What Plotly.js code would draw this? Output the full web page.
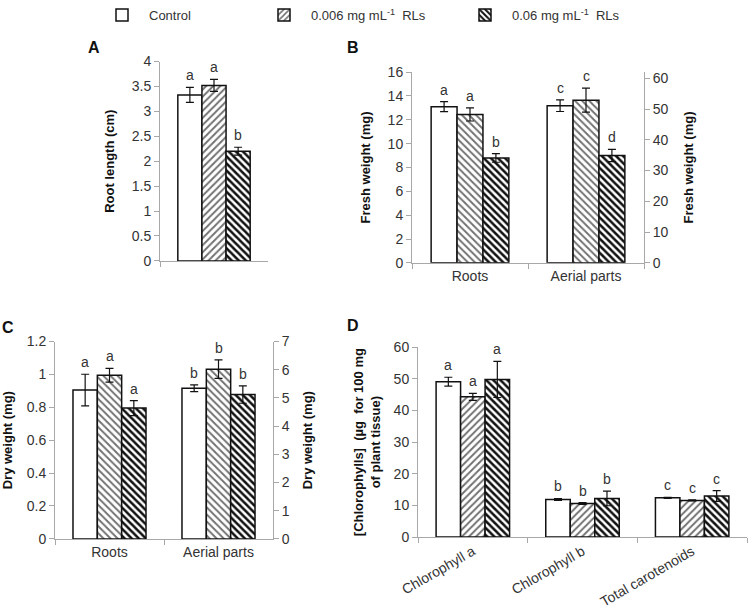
<!DOCTYPE html>
<html>
<head>
<meta charset="utf-8">
<script src="https://cdn.plot.ly/plotly-3.0.1.min.js"></script>
<style>html,body{margin:0;padding:0;background:#fff;}#chart{width:750px;height:609px;}</style>
</head>
<body>
<div id="chart"></div>
<script>
// ---------------- DATA ----------------
var seriesNames = ['Control', '0.006 mg mL<sup>-1</sup>&nbsp; RLs', '0.06 mg mL<sup>-1</sup>&nbsp; RLs'];

// Panel A - root length (cm)
var rootLength = [3.33, 3.52, 2.20];
var rootLengthErr = [0.15, 0.12, 0.08];
var rootLengthLetters = ['a', 'a', 'b'];

// Panel B - fresh weight (mg)
var bCategories = ['Roots', 'Aerial parts'];
var freshRoots = [13.1, 12.45, 8.8];
var freshRootsErr = [0.42, 0.55, 0.36];
var freshRootsLetters = ['a', 'a', 'b'];
var freshAerial = [51.1, 52.9, 34.9];
var freshAerialErr = [1.9, 3.9, 2.0];
var freshAerialLetters = ['c', 'c', 'd'];

// Panel C - dry weight (mg)
var cCategories = ['Roots', 'Aerial parts'];
var dryRoots = [0.905, 0.995, 0.795];
var dryRootsErr = [0.096, 0.042, 0.046];
var dryRootsLetters = ['a', 'a', 'a'];
var dryAerial = [5.34, 6.02, 5.12];
var dryAerialErr = [0.12, 0.33, 0.31];
var dryAerialLetters = ['b', 'b', 'b'];

// Panel D - pigments (µg per 100 mg of plant tissue)
var dCategories = ['Chlorophyll a', 'Chlorophyll b', 'Total carotenoids'];
var pigControl = [49.1, 11.9, 12.4];
var pigControlErr = [1.4, 0.3, 0.15];
var pigLow = [44.3, 10.6, 11.6];
var pigLowErr = [1.1, 0.3, 0.15];
var pigHigh = [49.8, 12.2, 13.0];
var pigHighErr = [5.7, 2.3, 1.7];
var pigLetters = [['a', 'b', 'c'], ['a', 'b', 'c'], ['a', 'b', 'c']];

// ---------------- STYLE ----------------
var W = 750, H = 609;
var FONT = 'Liberation Sans, Arial, sans-serif';
var BARGAP = 0.33;
var AXC = '#a8a8a8';
var TXT = '#333';

function px(x) { return x / W; }
function py(y) { return 1 - y / H; }

function markerFor(i, dir) {
  var m = { color: 'white', line: { color: '#111', width: 1.5 } };
  if (i === 1) m.pattern = { shape: dir, fgcolor: '#707070', bgcolor: 'white', size: 5, solidity: 0.38, fillmode: 'replace' };
  if (i === 2) m.pattern = { shape: '\\', fgcolor: '#111', bgcolor: 'white', size: 5, solidity: 0.5, fillmode: 'replace' };
  return m;
}

var traces = [];
var annotations = [];

function addBars(xref, yref, cat, vals, errs, letters, lowDir, domainX, nCat, withLegend) {
  var catPx = (domainX[1] - domainX[0]) * W / nCat;
  var bw = (1 - BARGAP) * catPx / 3;
  for (var i = 0; i < 3; i++) {
    var t = {
      type: 'bar',
      x: [cat], y: [vals[i]],
      xaxis: xref, yaxis: yref,
      name: seriesNames[i],
      offsetgroup: String(i + 1),
      marker: markerFor(i, lowDir),
      error_y: { type: 'data', array: [errs[i]], visible: true, color: '#111', thickness: 1.2, width: 4 },
      showlegend: false,
      hoverinfo: 'skip'
    };
    if (withLegend) {
      t.showlegend = true;
      t.legend = i === 0 ? 'legend' : (i === 1 ? 'legend2' : 'legend3');
    }
    traces.push(t);
    annotations.push({
      xref: xref, yref: yref, x: cat, y: vals[i] + errs[i],
      text: letters[i], showarrow: false, yanchor: 'bottom',
      xshift: (i - 1) * bw, yshift: 2,
      font: { family: FONT, size: 14, color: TXT }
    });
  }
}

// domains
var dAx = [px(160), px(268)];
var dBx = [px(412), px(644)];
var dCx = [px(55), px(273)];
var dDx = [px(418), px(747)];

addBars('x', 'y', 'A', rootLength, rootLengthErr, rootLengthLetters, '/', dAx, 1, true);
addBars('x2', 'y2', bCategories[0], freshRoots, freshRootsErr, freshRootsLetters, '\\', dBx, 2, false);
addBars('x2', 'y3', bCategories[1], freshAerial, freshAerialErr, freshAerialLetters, '\\', dBx, 2, false);
addBars('x3', 'y4', cCategories[0], dryRoots, dryRootsErr, dryRootsLetters, '\\', dCx, 2, false);
addBars('x3', 'y5', cCategories[1], dryAerial, dryAerialErr, dryAerialLetters, '\\', dCx, 2, false);

// Panel D : one trace per series across categories
(function () {
  var sets = [[pigControl, pigControlErr], [pigLow, pigLowErr], [pigHigh, pigHighErr]];
  var catPx = (dDx[1] - dDx[0]) * W / 3;
  var bw = (1 - BARGAP) * catPx / 3;
  for (var i = 0; i < 3; i++) {
    traces.push({
      type: 'bar', x: dCategories, y: sets[i][0], xaxis: 'x4', yaxis: 'y6',
      name: seriesNames[i], offsetgroup: String(i + 1),
      marker: markerFor(i, '/'),
      error_y: { type: 'data', array: sets[i][1], visible: true, color: '#111', thickness: 1.2, width: 4 },
      showlegend: false, hoverinfo: 'skip'
    });
    for (var j = 0; j < dCategories.length; j++) {
      annotations.push({
        xref: 'x4', yref: 'y6', x: dCategories[j], y: sets[i][0][j] + sets[i][1][j],
        text: pigLetters[i][j], showarrow: false, yanchor: 'bottom',
        xshift: (i - 1) * bw, yshift: 2,
        font: { family: FONT, size: 14, color: TXT }
      });
    }
  }
})();

// panel letters
[['A', 94, 43], ['B', 353, 43], ['C', 8, 325], ['D', 353, 323]].forEach(function (p) {
  annotations.push({
    xref: 'paper', yref: 'paper', x: px(p[1]), y: py(p[2]), text: p[0], showarrow: false,
    xanchor: 'center', yanchor: 'middle', font: { family: FONT, size: 16, color: '#111', weight: 'bold' }
  });
});

function xAxis(domain, anchor, extra) {
  var a = {
    domain: domain, anchor: anchor, type: 'category',
    showline: true, linecolor: AXC, linewidth: 1,
    ticks: 'outside', tickson: 'boundaries', ticklen: 5, tickcolor: AXC,
    showgrid: false, zeroline: false, fixedrange: true,
    tickfont: { family: FONT, size: 14, color: TXT }
  };
  for (var k in extra) a[k] = extra[k];
  return a;
}
function yAxis(domain, anchor, range, dtick, title, standoff, extra) {
  var a = {
    domain: domain, anchor: anchor, range: range, dtick: dtick, tick0: 0,
    showline: true, linecolor: AXC, linewidth: 1,
    ticks: 'outside', ticklen: 5, tickcolor: AXC,
    showgrid: false, zeroline: false, fixedrange: true,
    tickfont: { family: FONT, size: 14, color: TXT },
    title: { text: title, standoff: standoff, font: { family: FONT, size: 13, color: '#111', weight: 'bold' } }
  };
  for (var k in extra) a[k] = extra[k];
  return a;
}

var legendBase = {
  orientation: 'h', xanchor: 'left', yanchor: 'middle', y: py(10),
  itemwidth: 44, bgcolor: 'rgba(0,0,0,0)',
  font: { family: FONT, size: 13, color: TXT }
};
function leg(x) { var o = JSON.parse(JSON.stringify(legendBase)); o.x = x; return o; }

var layout = {
  width: W, height: H,
  margin: { l: 0, r: 0, t: 0, b: 0 },
  paper_bgcolor: 'white', plot_bgcolor: 'white',
  barmode: 'group', bargap: BARGAP, bargroupgap: 0,
  font: { family: FONT, color: TXT },
  showlegend: true,
  legend: leg(px(95)),
  legend2: leg(px(257)),
  legend3: leg(px(458)),
  xaxis: xAxis(dAx, 'y', { showticklabels: false }),
  yaxis: yAxis([py(258), py(57)], 'x', [0, 4], 0.5, 'Root length (cm)', 14),
  xaxis2: xAxis(dBx, 'y2', { categoryorder: 'array', categoryarray: bCategories }),
  yaxis2: yAxis([py(260), py(67.7)], 'x2', [0, 16], 2, 'Fresh weight (mg)', 14),
  yaxis3: yAxis([py(260), py(67.7)], 'x2', [0, 62], 10, 'Fresh weight (mg)', 16, { overlaying: 'y2', side: 'right' }),
  xaxis3: xAxis(dCx, 'y4', { categoryorder: 'array', categoryarray: cCategories }),
  yaxis4: yAxis([py(538.3), py(339.3)], 'x3', [0, 1.2], 0.2, 'Dry weight (mg)', 12),
  yaxis5: yAxis([py(538.3), py(339.3)], 'x3', [0, 7], 1, 'Dry weight (mg)', 14, { overlaying: 'y4', side: 'right' }),
  xaxis4: xAxis(dDx, 'y6', { tickangle: -30, categoryorder: 'array', categoryarray: dCategories }),
  yaxis6: yAxis([py(536.5), py(345)], 'x4', [0, 60], 10, '[Chlorophylls]&nbsp; (µg&nbsp; for 100 mg<br>of plant tissue)', 10),
  annotations: annotations
};

Plotly.newPlot('chart', traces, layout, { displayModeBar: false, staticPlot: true });
</script>
</body>
</html>
